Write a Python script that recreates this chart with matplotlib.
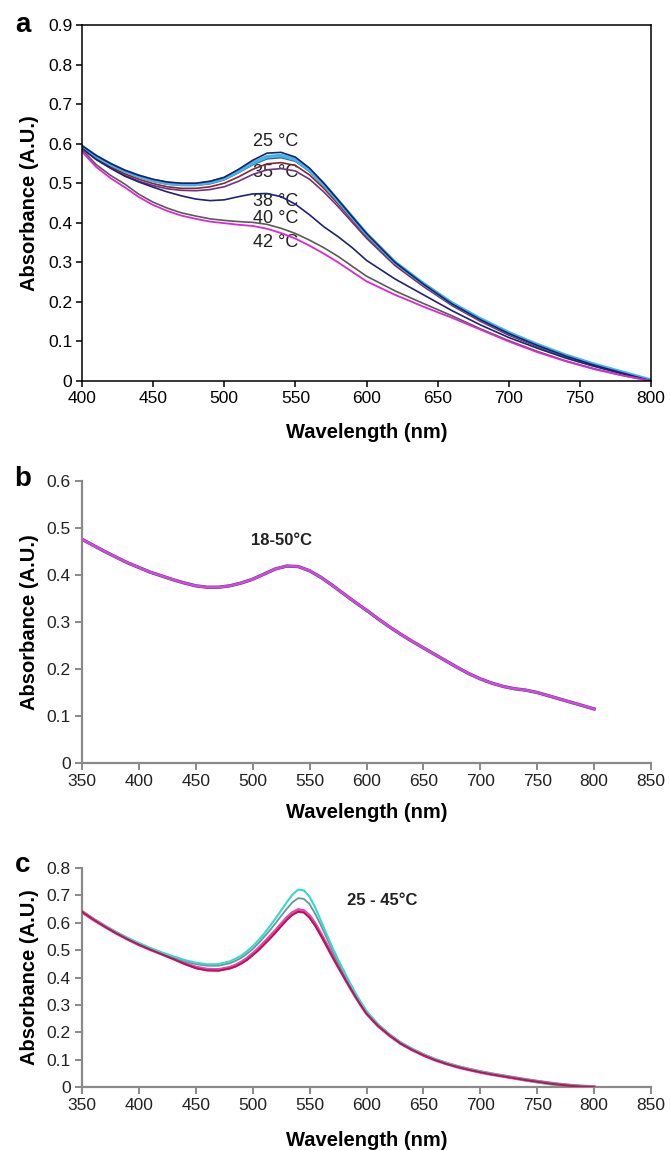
import matplotlib
matplotlib.use("Agg")
import matplotlib.pyplot as plt
from matplotlib.ticker import FuncFormatter, MultipleLocator

plt.rcParams['font.family'] = ['Liberation Sans', 'DejaVu Sans']

# ---------------- Panel a data ----------------
wl_a = [400, 410, 420, 430, 440, 450, 460, 470, 480, 490, 500, 510, 520, 530, 540,
        550, 560, 570, 580, 590, 600, 620, 640, 660, 680, 700, 720, 740, 760, 780, 800]
a_25_navy = [0.595, 0.570, 0.550, 0.533, 0.520, 0.510, 0.503, 0.500, 0.500, 0.505, 0.515, 0.535, 0.558, 0.576, 0.578,
             0.566, 0.538, 0.500, 0.458, 0.415, 0.373, 0.300, 0.245, 0.195, 0.155, 0.120, 0.090, 0.063, 0.040, 0.020, 0.000]
a_cyan = [0.593, 0.568, 0.548, 0.531, 0.518, 0.507, 0.500, 0.497, 0.497, 0.502, 0.512, 0.530, 0.551, 0.567, 0.570,
          0.560, 0.533, 0.497, 0.456, 0.414, 0.372, 0.300, 0.246, 0.197, 0.157, 0.122, 0.092, 0.065, 0.042, 0.022, 0.002]
a_blue = [0.592, 0.566, 0.546, 0.529, 0.516, 0.505, 0.498, 0.495, 0.495, 0.499, 0.509, 0.527, 0.547, 0.562, 0.565,
          0.556, 0.530, 0.494, 0.454, 0.412, 0.370, 0.298, 0.244, 0.195, 0.155, 0.120, 0.090, 0.063, 0.041, 0.021, 0.001]
a_35_maroon = [0.590, 0.563, 0.542, 0.524, 0.510, 0.499, 0.491, 0.487, 0.487, 0.491, 0.500, 0.516, 0.535, 0.549, 0.552,
               0.545, 0.521, 0.487, 0.448, 0.407, 0.366, 0.295, 0.241, 0.193, 0.153, 0.118, 0.088, 0.062, 0.040, 0.020, 0.000]
a_purple = [0.588, 0.560, 0.539, 0.520, 0.505, 0.494, 0.486, 0.482, 0.481, 0.484, 0.491, 0.505, 0.522, 0.534, 0.537,
            0.531, 0.510, 0.478, 0.441, 0.401, 0.361, 0.292, 0.239, 0.191, 0.151, 0.116, 0.087, 0.061, 0.039, 0.020, 0.000]
a_38 = [0.588, 0.560, 0.538, 0.518, 0.503, 0.490, 0.478, 0.468, 0.460, 0.456, 0.458, 0.466, 0.473, 0.474, 0.466,
        0.447, 0.420, 0.390, 0.365, 0.337, 0.305, 0.258, 0.218, 0.178, 0.142, 0.110, 0.083, 0.058, 0.037, 0.018, 0.000]
a_40 = [0.585, 0.547, 0.520, 0.498, 0.472, 0.452, 0.437, 0.425, 0.417, 0.410, 0.406, 0.403, 0.401, 0.396, 0.386,
        0.373, 0.356, 0.337, 0.315, 0.290, 0.265, 0.228, 0.196, 0.165, 0.132, 0.102, 0.075, 0.051, 0.031, 0.014, 0.000]
a_42 = [0.580, 0.541, 0.513, 0.490, 0.465, 0.445, 0.430, 0.418, 0.410, 0.403, 0.399, 0.395, 0.392, 0.385, 0.374,
        0.360, 0.342, 0.322, 0.300, 0.276, 0.252, 0.218, 0.188, 0.160, 0.130, 0.100, 0.073, 0.050, 0.030, 0.014, 0.000]
a_labels = ["25 °C", "35 °C", "38 °C", "40 °C", "42 °C"]
a_label_y = [0.605, 0.527, 0.453, 0.411, 0.350]
a_label_x = 536

# ---------------- Panel b data ----------------
wl_b = list(range(350, 801, 10))
b_abs = [0.476, 0.463, 0.450, 0.438, 0.426, 0.416, 0.406, 0.398, 0.390, 0.383,
         0.377, 0.374, 0.374, 0.377, 0.383, 0.391, 0.402, 0.413, 0.419, 0.418,
         0.409, 0.395, 0.378, 0.360, 0.342, 0.325, 0.307, 0.290, 0.274, 0.259,
         0.245, 0.231, 0.217, 0.203, 0.190, 0.179, 0.170, 0.163, 0.158, 0.155,
         0.150, 0.143, 0.136, 0.129, 0.122, 0.115]
b_label = "18-50°C"

# ---------------- Panel c data ----------------
wl_c = [350, 360, 370, 380, 390, 400, 410, 420, 430, 440, 450, 460, 470, 480,
        485, 490, 495, 500, 505, 510, 515, 520, 525, 530, 535, 540, 545, 550,
        555, 560, 565, 570, 575, 580, 585, 590, 595, 600,
        610, 620, 630, 640, 650, 660, 670, 680, 690, 700, 710, 720, 730, 740,
        750, 760, 770, 780, 790, 800]
c_magenta = [0.640, 0.612, 0.587, 0.563, 0.541, 0.521, 0.503, 0.487, 0.470, 0.452, 0.437, 0.429, 0.428, 0.436,
             0.444, 0.455, 0.469, 0.486, 0.505, 0.526, 0.548, 0.570, 0.594, 0.617, 0.636, 0.647, 0.643, 0.624,
             0.594, 0.557, 0.519, 0.480, 0.442, 0.406, 0.369, 0.334, 0.301, 0.270,
             0.225, 0.190, 0.160, 0.137, 0.117, 0.100, 0.086, 0.074, 0.064, 0.055, 0.047, 0.040, 0.033, 0.026,
             0.020, 0.014, 0.009, 0.005, 0.002, 0.000]
c_crimson = [0.640, 0.612, 0.586, 0.562, 0.540, 0.520, 0.502, 0.485, 0.468, 0.450, 0.434, 0.426, 0.425, 0.433,
             0.440, 0.451, 0.464, 0.481, 0.499, 0.520, 0.541, 0.563, 0.587, 0.610, 0.629, 0.640, 0.637, 0.618,
             0.589, 0.553, 0.515, 0.476, 0.439, 0.403, 0.367, 0.332, 0.299, 0.268,
             0.224, 0.189, 0.159, 0.136, 0.116, 0.099, 0.085, 0.073, 0.063, 0.054, 0.046, 0.039, 0.032, 0.025,
             0.019, 0.013, 0.008, 0.004, 0.001, 0.000]
c_gray = [0.640, 0.613, 0.588, 0.565, 0.543, 0.523, 0.506, 0.490, 0.475, 0.460, 0.449, 0.443, 0.443, 0.452,
          0.461, 0.472, 0.487, 0.504, 0.525, 0.548, 0.572, 0.598, 0.625, 0.651, 0.675, 0.690, 0.687, 0.668,
          0.632, 0.590, 0.545, 0.499, 0.456, 0.416, 0.377, 0.340, 0.306, 0.274,
          0.228, 0.192, 0.162, 0.139, 0.119, 0.102, 0.088, 0.076, 0.066, 0.057, 0.049, 0.042, 0.035, 0.028,
          0.022, 0.016, 0.011, 0.007, 0.003, 0.000]
c_cyan = [0.641, 0.614, 0.589, 0.566, 0.545, 0.526, 0.508, 0.492, 0.478, 0.464, 0.454, 0.448, 0.449, 0.459,
          0.469, 0.480, 0.496, 0.514, 0.536, 0.560, 0.587, 0.615, 0.645, 0.675, 0.703, 0.721, 0.718, 0.695,
          0.655, 0.607, 0.558, 0.510, 0.466, 0.425, 0.384, 0.346, 0.311, 0.278,
          0.230, 0.193, 0.163, 0.140, 0.119, 0.102, 0.088, 0.076, 0.065, 0.056, 0.048, 0.040, 0.032, 0.024,
          0.017, 0.011, 0.005, 0.001, 0.000, 0.000]
c_label = "25 - 45°C"

fmt = FuncFormatter(lambda v, p: ("%g" % round(v, 2)))

fig = plt.figure(figsize=(6.7, 11.5), dpi=100)
W, H = 670.0, 1150.0
L, R = 82, 651

def box(top, bottom):
    return [L / W, 1 - bottom / H, (R - L) / W, (bottom - top) / H]

TICK_FS = 12.5
LAB_FS = 14.5

# ---------- Panel a ----------
ax = fig.add_axes(box(25, 381))
ax.plot(wl_a, a_purple, color="#74307e", lw=1.2, zorder=2)
ax.plot(wl_a, a_35_maroon, color="#8c2434", lw=1.2, zorder=2)
ax.plot(wl_a, a_blue, color="#2a5db0", lw=1.4, zorder=2)
ax.plot(wl_a, a_cyan, color="#3fb6e6", lw=2.6, zorder=2)
ax.plot(wl_a, a_25_navy, color="#1c1f6b", lw=1.2, zorder=2)
ax.plot(wl_a, a_38, color="#1f2378", lw=1.2, zorder=2)
ax.plot(wl_a, a_40, color="#5a5a5a", lw=1.2, zorder=2)
ax.plot(wl_a, a_42, color="#e026d0", lw=1.3, zorder=2)
for t, yv in zip(a_labels, a_label_y):
    ax.text(a_label_x, yv, t, ha="center", va="center", fontsize=13, color="#222222", zorder=1.5)
ax.set_xlim(400, 800)
ax.set_ylim(0, 0.9)
ax.xaxis.set_major_locator(MultipleLocator(50))
ax.yaxis.set_major_locator(MultipleLocator(0.1))
ax.yaxis.set_major_formatter(fmt)
for s in ax.spines.values():
    s.set_color("black")
    s.set_linewidth(1.1)
ax.tick_params(direction="out", length=4, width=1.1, labelsize=TICK_FS, colors="black", pad=3)
ax.set_xlabel("Wavelength (nm)", fontsize=LAB_FS, fontweight="bold", va="center")
ax.set_ylabel("Absorbance (A.U.)", fontsize=LAB_FS, fontweight="bold", va="center")
ax.xaxis.set_label_coords(0.5, -51 / 356)
ax.yaxis.set_label_coords((30 - L) / (R - L), 0.5)

# ---------- Panel b ----------
GRAY = "#8a8a8a"
ax = fig.add_axes(box(481, 763))
ax.plot(wl_b, b_abs, color="#4a3aa0", lw=2.4, zorder=2)
ax.plot(wl_b, b_abs, color="#d848d8", lw=1.8, zorder=3)
ax.text(525, 0.473, b_label, ha="center", va="center", fontsize=12, fontweight="bold", color="#222222")
ax.set_xlim(350, 850)
ax.set_ylim(0, 0.6)
ax.xaxis.set_major_locator(MultipleLocator(50))
ax.yaxis.set_major_locator(MultipleLocator(0.1))
ax.yaxis.set_major_formatter(fmt)
ax.spines["top"].set_visible(False)
ax.spines["right"].set_visible(False)
for s in ("left", "bottom"):
    ax.spines[s].set_color(GRAY)
    ax.spines[s].set_linewidth(1.6)
ax.tick_params(direction="out", length=5, width=1.4, color=GRAY, labelcolor="#222222", labelsize=TICK_FS, pad=3)
ax.set_xlabel("Wavelength (nm)", fontsize=LAB_FS, fontweight="bold", va="center")
ax.set_ylabel("Absorbance (A.U.)", fontsize=LAB_FS, fontweight="bold", va="center")
ax.xaxis.set_label_coords(0.5, -50 / 282)
ax.yaxis.set_label_coords((30 - L) / (R - L), 0.5)

# ---------- Panel c ----------
ax = fig.add_axes(box(868, 1087))
ax.plot(wl_c, c_magenta, color="#e048b8", lw=2.6, zorder=2)
ax.plot(wl_c, c_crimson, color="#c0104e", lw=1.4, zorder=3)
ax.plot(wl_c, c_gray, color="#5f9a9a", lw=1.3, zorder=2)
ax.plot(wl_c, c_cyan, color="#3ad8c8", lw=1.5, zorder=2)
ax.text(614, 0.682, c_label, ha="center", va="center", fontsize=12, fontweight="bold", color="#222222")
ax.set_xlim(350, 850)
ax.set_ylim(0, 0.8)
ax.xaxis.set_major_locator(MultipleLocator(50))
ax.yaxis.set_major_locator(MultipleLocator(0.1))
ax.yaxis.set_major_formatter(fmt)
ax.spines["top"].set_visible(False)
ax.spines["right"].set_visible(False)
for s in ("left", "bottom"):
    ax.spines[s].set_color(GRAY)
    ax.spines[s].set_linewidth(1.6)
ax.tick_params(direction="out", length=5, width=1.4, color=GRAY, labelcolor="#222222", labelsize=TICK_FS, pad=3)
ax.set_xlabel("Wavelength (nm)", fontsize=LAB_FS, fontweight="bold", va="center")
ax.set_ylabel("Absorbance (A.U.)", fontsize=LAB_FS, fontweight="bold", va="center")
ax.xaxis.set_label_coords(0.5, -53 / 219)
ax.yaxis.set_label_coords((30 - L) / (R - L), 0.5)

# panel letters
for letter, yc in (("a", 25), ("b", 479), ("c", 865)):
    fig.text(23 / W, 1 - yc / H, letter, ha="center", va="center", fontsize=20, fontweight="bold")

fig.savefig("out.png", dpi=100)
